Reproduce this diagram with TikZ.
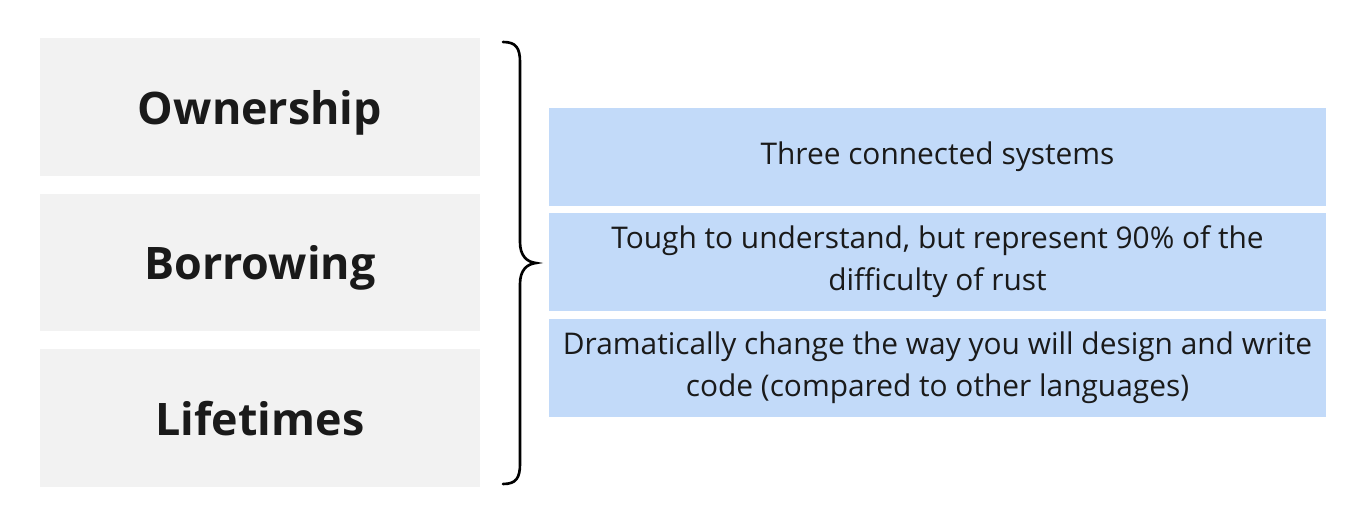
\documentclass[tikz,border=0pt]{standalone}
\usepackage{fontspec}
\setmainfont{Open Sans}
\usetikzlibrary{positioning}
\definecolor{boxgray}{HTML}{F2F2F2}
\definecolor{boxblue}{HTML}{C2DAF9}
\definecolor{inkdark}{HTML}{1A1A1A}

\begin{document}
\begin{tikzpicture}[x=0.02cm,y=-0.02cm,
  topic/.style={fill=boxgray, minimum width=8.8cm, minimum height=2.76cm,
    inner sep=0pt, text depth=0pt, text=inkdark, font=\bfseries\fontsize{25.5}{30}\selectfont},
  fact/.style={fill=boxblue, minimum width=15.54cm, minimum height=1.96cm,
    inner sep=0pt, align=center, text=inkdark, font=\fontsize{17}{23.8}\selectfont}]

\useasboundingbox (0,0) rectangle (1353,531);

% Topics on the left
\node[topic] (own) at (260,107) {Ownership};
\node[topic] (bor) at (260,262.5) {Borrowing};
\node[topic] (life) at (260,418) {Lifetimes};

% Brace
\draw[line width=1.5pt, line cap=round] (503,42)
  .. controls (516,42) and (520,48) .. (520,62) -- (520,242)
  .. controls (520,256) and (527,262) .. (536,263)
  .. controls (527,264) and (520,270) .. (520,284) -- (520,464)
  .. controls (520,478) and (516,484) .. (503,484);

% Facts on the right
\node[fact] (sys) at (937.5,157) {Three connected systems};
\node[fact] (hard) at (937.5,262) {Tough to understand, but represent 90\% of the\\difficulty of rust};
\node[fact] (code) at (937.5,368) {Dramatically change the way you will design and write\\code (compared to other languages)};

\end{tikzpicture}
\end{document}
